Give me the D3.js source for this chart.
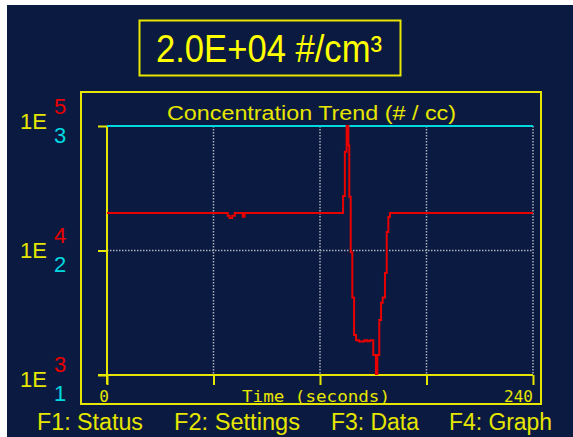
<!DOCTYPE html>
<html>
<head>
<meta charset="utf-8">
<script src="https://cdn.jsdelivr.net/npm/d3@7/dist/d3.min.js"></script>
<style>
  html, body { margin: 0; padding: 0; background: #ffffff; }
  svg { display: block; }
</style>
</head>
<body>
<svg id="chart" width="573" height="437"></svg>
<script>
// Time axis (seconds)
const timeDomain = [0, 240];
const timeTicks = [0, 60, 120, 180, 240];
const timeTickLabels = ["0", "240"];

// Concentration (#/cc), primary log scale shown in red exponents
const redDomain = [1e3, 1e5];
const redExponents = ["3", "4", "5"];
// Secondary log scale shown in cyan exponents
const cyanDomain = [1e1, 1e3];
const cyanExponents = ["1", "2", "3"];

// Red trace: concentration samples (held until the next sample)
const redTimes = [0, 68, 69, 70.5, 72, 76.5, 77.5, 133, 134, 135, 136, 136.5, 137.3, 138.2, 139.2, 140.3, 142, 145, 146.5, 148, 150, 151.5, 152.3, 153.4, 154.4, 155.3, 156.6, 157.6, 158.5, 159.4, 240];
const redValues = [2.0e4, 1.9e4, 1.82e4, 1.9e4, 2.0e4, 1.87e4, 2.0e4, 2.74e4, 6.2e4, 1.0e5, 7.0e4, 2.7e4, 9.7e3, 4.2e3, 2.1e3, 1.9e3, 1.86e3, 1.9e3, 1.87e3, 1.9e3, 1.45e3, 1.02e3, 1.45e3, 2.77e3, 3.8e3, 4.2e3, 6.6e3, 1.41e4, 1.86e4, 2.0e4, 2.0e4];

// Cyan trace
const cyanTimes = [0, 240];
const cyanValues = [1000, 1000];

// Readout
const readoutText = "2.0E+04 #/cm\u00B3";
const chartTitle = "Concentration Trend (# / cc)";
const axisTitle = "Time (seconds)";
const keyLabels = ["F1: Status", "F2: Settings", "F3: Data", "F4: Graph"];

const BG = "#0b1a40";
const YEL = "#e6e600";
const RED = "#e80000";
const CYAN = "#00d8e0";
const GRID = "#aab0c0";

const svg = d3.select("#chart");

svg.append("rect").attr("x", 7).attr("y", 5).attr("width", 566).attr("height", 432).attr("fill", BG);

const plot = { left: 107, right: 533, top: 126, bottom: 375 };

const x = d3.scaleLinear().domain(timeDomain).range([plot.left, plot.right]);
const yRed = d3.scaleLog().domain(redDomain).range([plot.bottom, plot.top]).clamp(true);
const yCyan = d3.scaleLog().domain(cyanDomain).range([plot.bottom, plot.top]).clamp(true);

// Readout box
svg.append("rect").attr("x", 139.5).attr("y", 20.5).attr("width", 261).attr("height", 55)
  .attr("fill", "none").attr("stroke", YEL).attr("stroke-width", 2);
svg.append("text").attr("x", 156).attr("y", 62)
  .attr("font-family", "Liberation Sans, Arial, sans-serif").attr("font-size", 38)
  .attr("fill", "#ffff00").attr("textLength", 226).attr("lengthAdjust", "spacingAndGlyphs")
  .text(readoutText);

// Outer frame
svg.append("rect").attr("x", 81).attr("y", 92).attr("width", 460).attr("height", 312)
  .attr("fill", "none").attr("stroke", YEL).attr("stroke-width", 2);

// Chart title
svg.append("text").attr("x", 167).attr("y", 120)
  .attr("font-family", "Liberation Sans, Arial, sans-serif").attr("font-size", 20)
  .attr("fill", YEL).attr("textLength", 289).attr("lengthAdjust", "spacingAndGlyphs")
  .text(chartTitle);

// Grid
const grid = svg.append("g").attr("stroke", GRID).attr("stroke-width", 1.5).attr("stroke-dasharray", "1.5,1.5");
grid.selectAll("line.v").data(timeTicks.slice(1)).join("line")
  .attr("x1", d => x(d)).attr("x2", d => x(d)).attr("y1", plot.top).attr("y2", plot.bottom);
grid.append("line").attr("x1", plot.left).attr("x2", plot.right)
  .attr("y1", yRed(1e4)).attr("y2", yRed(1e4));

// Axes
const xAxis = d3.axisBottom(x).tickValues(timeTicks).tickSize(10).tickFormat("");
const gx = svg.append("g").attr("transform", `translate(0,${plot.bottom})`).call(xAxis);
gx.select(".domain").remove();
gx.selectAll("line").attr("stroke", YEL).attr("stroke-width", 2);

const yAxis = d3.axisLeft(yRed).tickValues(redDomain.concat([1e4]).sort(d3.ascending)).tickSize(9).tickFormat("");
const gy = svg.append("g").attr("transform", `translate(${plot.left},0)`).call(yAxis);
gy.select(".domain").remove();
gy.selectAll("line").attr("stroke", YEL).attr("stroke-width", 2);

svg.append("line").attr("x1", plot.left - 9).attr("x2", plot.right)
  .attr("y1", plot.bottom).attr("y2", plot.bottom).attr("stroke", YEL).attr("stroke-width", 2);
svg.append("line").attr("x1", plot.left).attr("x2", plot.left)
  .attr("y1", plot.top).attr("y2", plot.bottom + 9).attr("stroke", YEL).attr("stroke-width", 2);

// Traces
const cyanLine = d3.line().x((d, i) => x(cyanTimes[i])).y(d => yCyan(d)).curve(d3.curveStepAfter);
svg.append("path").attr("d", cyanLine(cyanValues)).attr("fill", "none")
  .attr("stroke", CYAN).attr("stroke-width", 2);

const redLine = d3.line().x((d, i) => x(redTimes[i])).y(d => yRed(d)).curve(d3.curveStepAfter);
svg.append("path").attr("d", redLine(redValues)).attr("fill", "none")
  .attr("stroke", RED).attr("stroke-width", 2);

// Y labels: 1E with red/cyan exponents
const labelRow = d3.scaleLinear().domain([0, 2]).range([387, 129]);
const yl = svg.append("g").attr("font-family", "Liberation Sans, Arial, sans-serif");
redExponents.forEach((e, i) => {
  const base = labelRow(i);
  yl.append("text").attr("x", 20).attr("y", base).attr("font-size", 22).attr("fill", YEL).text("1E");
  yl.append("text").attr("x", 54).attr("y", base - 15).attr("font-size", 22).attr("fill", RED).text(e);
  yl.append("text").attr("x", 54).attr("y", base + 14).attr("font-size", 22).attr("fill", CYAN).text(cyanExponents[i]);
});

// X labels
const mono = "DejaVu Sans Mono, Liberation Mono, monospace";
svg.append("text").attr("x", x(timeDomain[0]) - 3).attr("y", 402).attr("text-anchor", "middle")
  .attr("font-family", mono).attr("font-size", 16).attr("fill", YEL).text(timeTickLabels[0]);
svg.append("text").attr("x", x(timeDomain[1])).attr("y", 402).attr("text-anchor", "end")
  .attr("font-family", mono).attr("font-size", 16).attr("fill", YEL).text(timeTickLabels[1]);
svg.append("text").attr("x", 242).attr("y", 402)
  .attr("font-family", mono).attr("font-size", 16).attr("fill", YEL)
  .attr("textLength", 148).attr("lengthAdjust", "spacingAndGlyphs").text(axisTitle);

// Function key labels
const keyX = [37, 174, 331, 449];
const keyW = [106, 126, 88, 103];
keyLabels.forEach((k, i) => {
  svg.append("text").attr("x", keyX[i]).attr("y", 430)
    .attr("font-family", "Liberation Sans, Arial, sans-serif").attr("font-size", 23)
    .attr("fill", YEL).attr("textLength", keyW[i]).attr("lengthAdjust", "spacingAndGlyphs").text(k);
});
</script>
</body>
</html>
